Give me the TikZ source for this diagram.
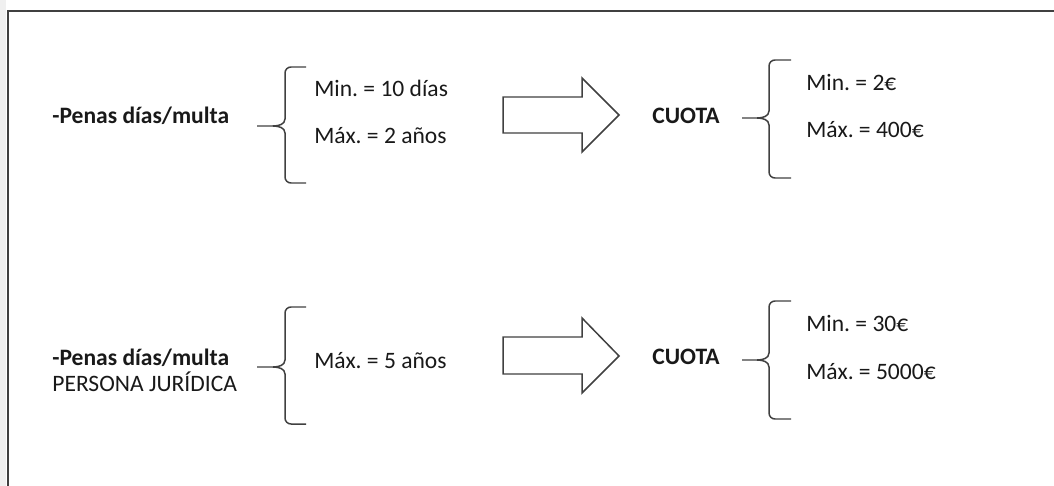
\documentclass[tikz,border=0pt]{standalone}
\usepackage{fontspec}
\setmainfont{Carlito}
\usetikzlibrary{positioning}
\definecolor{mygray}{gray}{0.25}
\definecolor{mystrip}{gray}{0.94}
\definecolor{mytext}{gray}{0.1}
\frenchspacing
\tikzset{
    txt/.style={anchor=base west, inner sep=0pt, text=mytext, font=\fontsize{13.4}{16}\selectfont},
    tit/.style={txt, font=\fontsize{13.4}{16}\selectfont\bfseries},
    llave/.style={mygray, line width=0.85pt, line join=round},
    flecha/.style={mygray, line width=0.85pt, line join=miter, fill=white}
}
\begin{document}
\begin{tikzpicture}[x=0.02cm, y=-0.02cm]
    \useasboundingbox (0,0) rectangle (1054,486);
    \fill[mystrip] (0,0) rectangle (6,486);
    \draw[black!75, line width=1pt] (8,490) -- (8,11) -- (1060,11);
    % primera fila
    \node[tit] (pena1) at (52,124) {-Penas días/multa};
    \draw[llave] (306,67) -- (291,67) to[out=180,in=90] (285,73) -- (285,119) to[out=-90,in=0] (273,126) -- (257,126);
    \draw[llave] (273,126) to[out=0,in=90] (285,133) -- (285,177) to[out=-90,in=180] (291,183) -- (306,183);
    \node[txt] (min1) at (314,97) {Min. = 10 días};
    \node[txt] (max1) at (314,144) {Máx. = 2 años};
    \draw[flecha] (503,97) -- (582,97) -- (582,78) -- (619,115) -- (582,152) -- (582,133) -- (503,133) -- cycle;
    \node[tit] (cuota1) at (652,124) {CUOTA};
    \draw[llave] (791,60) -- (775,60) to[out=180,in=90] (769,66) -- (769,111) to[out=-90,in=0] (757,118) -- (742,118);
    \draw[llave] (757,118) to[out=0,in=90] (769,125) -- (769,172) to[out=-90,in=180] (775,178) -- (791,178);
    \node[txt] (cmin1) at (806,91) {Min. = 2€};
    \node[txt] (cmax1) at (806,138) {Máx. = 400€};
    % segunda fila
    \node[tit] (pena2) at (52,365) {-Penas días/multa};
    \node[txt] (juri) at (52,391) {PERSONA JURÍDICA};
    \draw[llave] (306,307) -- (291,307) to[out=180,in=90] (285,313) -- (285,360) to[out=-90,in=0] (273,367) -- (257,367);
    \draw[llave] (273,367) to[out=0,in=90] (285,374) -- (285,418) to[out=-90,in=180] (291,424) -- (306,424);
    \node[txt] (max2) at (314,368) {Máx. = 5 años};
    \draw[flecha] (503,337) -- (582,337) -- (582,318) -- (619,356) -- (582,393) -- (582,374) -- (503,374) -- cycle;
    \node[tit] (cuota2) at (652,364) {CUOTA};
    \draw[llave] (791,301) -- (775,301) to[out=180,in=90] (769,307) -- (769,353) to[out=-90,in=0] (757,360) -- (742,360);
    \draw[llave] (757,360) to[out=0,in=90] (769,367) -- (769,413) to[out=-90,in=180] (775,419) -- (791,419);
    \node[txt] (cmin2) at (806,331) {Min. = 30€};
    \node[txt] (cmax2) at (806,379) {Máx. = 5000€};
\end{tikzpicture}
\end{document}
